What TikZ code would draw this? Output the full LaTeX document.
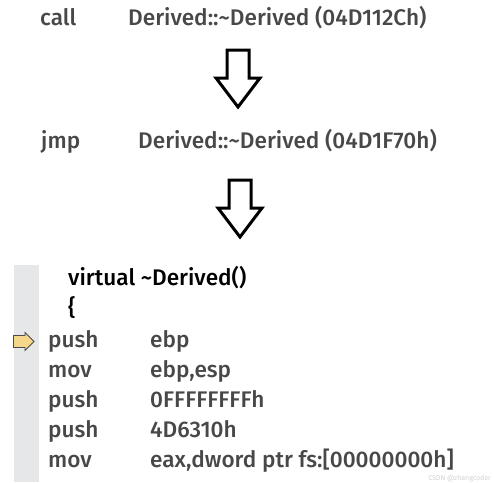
\documentclass[tikz,border=0pt]{standalone}
\usepackage{fontspec}
\setmainfont{Fira Sans}
\newfontfamily\asmfont{Fira Sans Medium}
\usepackage{tikz}
\usetikzlibrary{arrows.meta,positioning}
\definecolor{TxtGray}{RGB}{72,72,72}
\definecolor{BarGray}{RGB}{230,231,232}
\definecolor{PtrYel}{RGB}{246,214,138}
\tikzset{
  asm/.style={anchor=base west,inner sep=0pt,font=\asmfont\fontsize{22.6}{23}\selectfont,text=TxtGray},
  src/.style={asm,text=black},
  bigarrow/.pic={
    \draw[line width=3pt,fill=white,miter limit=10]
      (-11,0) -- (11,0) -- (11,28) -- (22,28) -- (0,57) -- (-22,28) -- (-11,28) -- cycle;
  },
}

\begin{document}
\begin{tikzpicture}[x=1pt,y=-1pt]
  \useasboundingbox (0,0) rectangle (494,482);
  % call / jmp chain
  \node[asm] (callop) at (40,25) {call};
  \node[asm] (callarg) at (128,25) {Derived::\textasciitilde Derived (04D112Ch)};
  \pic at (238,50) {bigarrow};
  \node[asm] (jmpop) at (41,148) {jmp};
  \node[asm] (jmparg) at (138,148) {Derived::\textasciitilde Derived (04D1F70h)};
  \pic at (240,180) {bigarrow};
  % disassembly window
  \fill[BarGray] (14,265) rectangle (39,482);
  \draw[line width=0.8pt,draw=black!70,fill=PtrYel,line join=miter]
    (13.5,335.5) -- (25,335.5) -- (25,332.5) -- (34,341.5) -- (25,350.5) -- (25,347.5) -- (13.5,347.5) -- cycle;
  \node[src] (fn) at (68,285) {virtual \textasciitilde Derived()};
  \node[src] (brace) at (68,315) {\{};
  \foreach \op/\arg [count=\i from 0] in {push/ebp,mov/{ebp,esp},push/0FFFFFFFFh,push/4D6310h,mov/{eax,dword ptr fs:[00000000h]}}{
    \node[asm] (op\i) at (48,347+30*\i) {\op};
    \node[asm] (arg\i) at (150,347+30*\i) {\arg};
  }
  \node[anchor=base east,inner sep=0pt,font=\fontsize{7}{7}\selectfont,text=black!18] (wm) at (491,480) {CSDN @zhangcoder};
\end{tikzpicture}
\end{document}
